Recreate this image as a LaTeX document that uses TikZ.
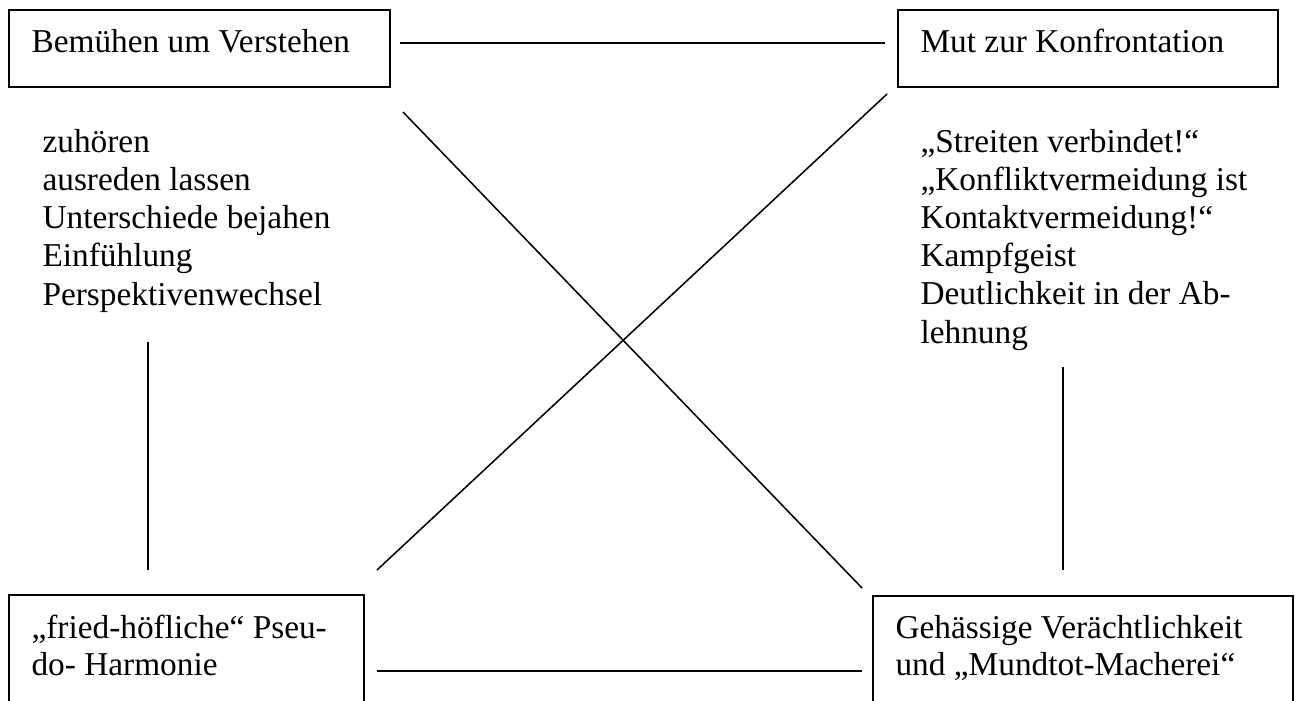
\documentclass[tikz,border=0pt]{standalone}
\usepackage{fontspec}
\setmainfont{Liberation Serif}
\usetikzlibrary{fit}
\begin{document}
\begin{tikzpicture}[x=0.36pt,y=-0.36pt,
  font=\fontsize{12}{13.8}\selectfont,
  box/.style={draw,line width=0.6pt,inner sep=0pt},
  txt/.style={anchor=base west,inner sep=0pt},
  conn/.style={line width=0.55pt}]
\useasboundingbox (0,0) rectangle (1299,700);
% boxes
\node[box,fit={(9,10)(390,87)}] (tl) {};
\node[box,fit={(898,10)(1278,87)}] (tr) {};
\node[box,fit={(9,595)(364,710)}] (bl) {};
\node[box,fit={(873,596)(1293,710)}] (br) {};
% box texts
\node[txt] (tlt) at (31,52) {Bemühen um Verstehen};
\node[txt] (trt) at (920,52) {Mut zur Konfrontation};
\node[txt] (blt1) at (31,638) {„fried-höfliche“ Pseu-};
\node[txt] (blt2) at (31,675) {do- Harmonie};
\node[txt] (brt1) at (895,638) {Gehässige Verächtlichkeit};
\node[txt] (brt2) at (895,675) {und „Mundtot-Macherei“};
% lists
\foreach \t [count=\i from 0] in {zuhören,ausreden lassen,Unterschiede bejahen,Einfühlung,Perspektivenwechsel}
  \node[txt] (l\i) at (42,152+38.25*\i) {\t};
\foreach \t [count=\i from 0] in {„Streiten verbindet!“,„Konfliktvermeidung ist,Kontaktvermeidung!“,Kampfgeist,Deutlichkeit in der Ab-,lehnung}
  \node[txt] (r\i) at (920,152+38.2*\i) {\t};
% connector end points
\coordinate (h1a) at (400,43);  \coordinate (h1b) at (885,43);
\coordinate (h2a) at (377,671); \coordinate (h2b) at (862,671);
\coordinate (d1a) at (403,112); \coordinate (d1b) at (862,588);
\coordinate (d2a) at (887,94);  \coordinate (d2b) at (377,570);
\coordinate (v1a) at (148,342); \coordinate (v1b) at (148,570);
\coordinate (v2a) at (1063,367);\coordinate (v2b) at (1063,570);
\draw[conn] (h1a) -- (h1b);
\draw[conn] (h2a) -- (h2b);
\draw[conn] (d1a) -- (d1b);
\draw[conn] (d2a) -- (d2b);
\draw[conn] (v1a) -- (v1b);
\draw[conn] (v2a) -- (v2b);
\end{tikzpicture}
\end{document}
